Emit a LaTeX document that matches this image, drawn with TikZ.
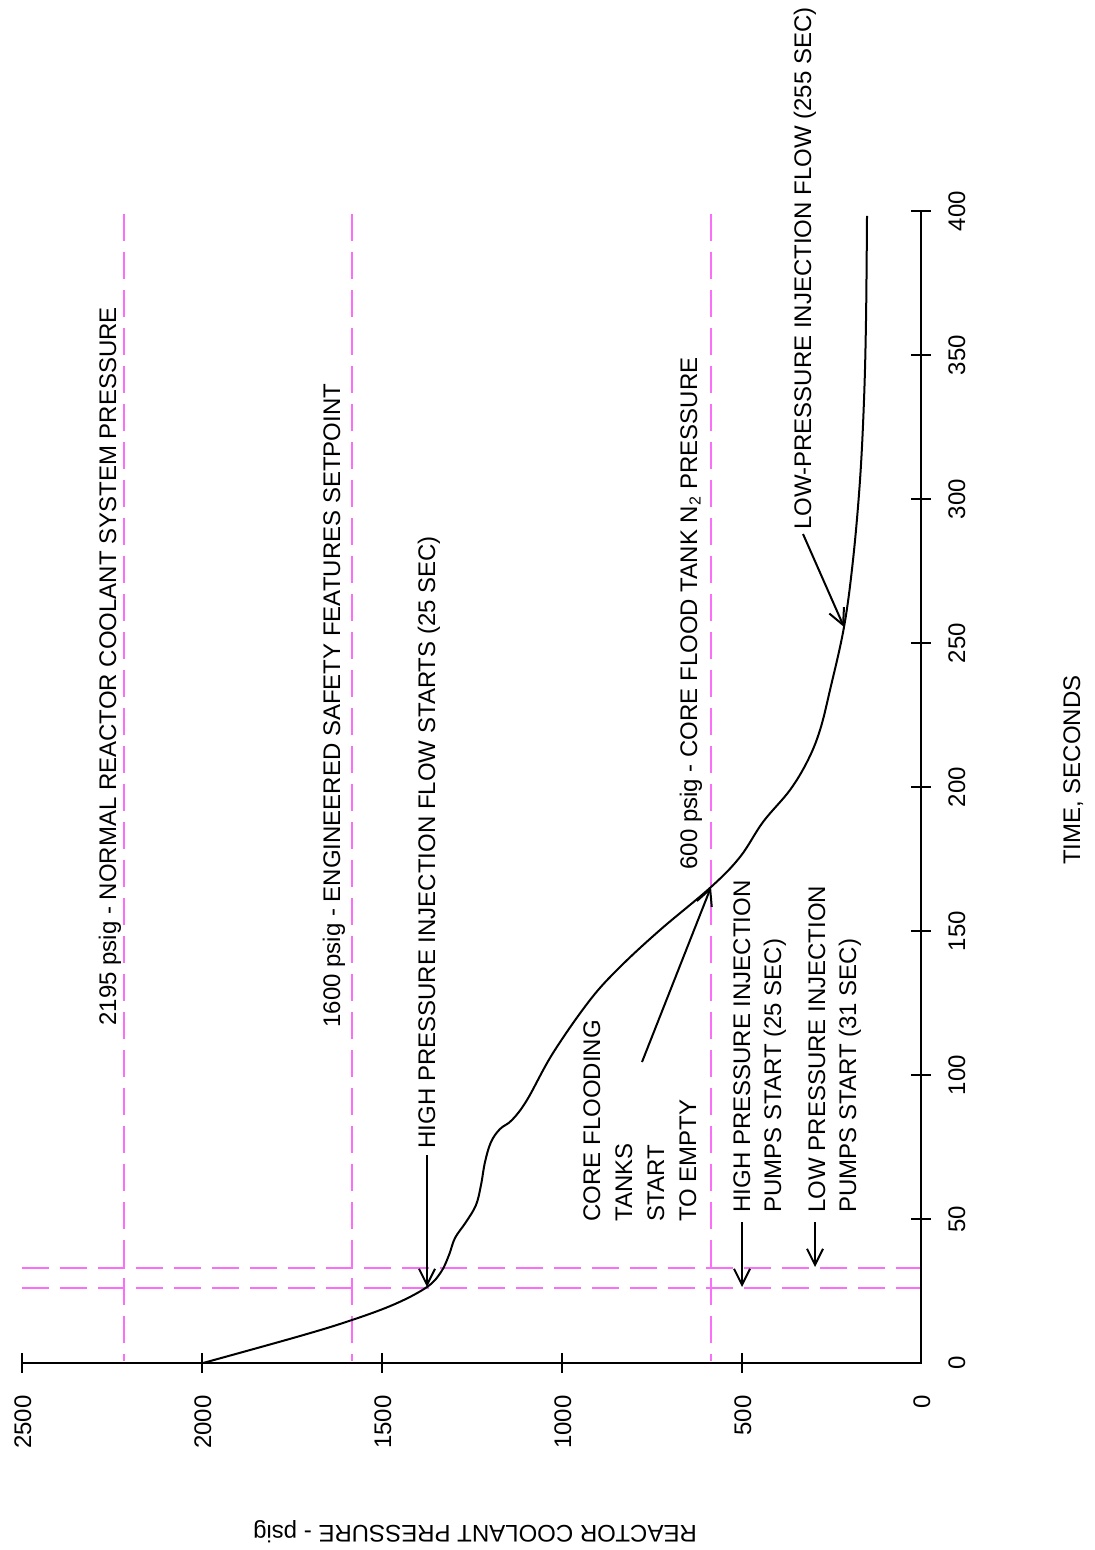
\documentclass[tikz,border=0pt]{standalone}
\usepackage{fontspec}
\setmainfont{Liberation Sans}
\usetikzlibrary{arrows.meta}
\definecolor{guide}{RGB}{250,110,250}
\begin{document}
\begin{tikzpicture}[x=0.5pt,y=-0.5pt,
  lbl/.style={font=\fontsize{12}{16}\selectfont, inner sep=0pt, rotate=90},
  tick/.style={font=\fontsize{12}{14}\selectfont, inner sep=0pt, rotate=90},
  guideline/.style={draw=guide, line width=1pt, dash pattern=on 13.5pt off 5.5pt},
  axisline/.style={line width=1pt},
  curve/.style={line width=1pt},
  pointer/.style={line width=1pt, -{Straight Barb[length=8pt,width=8pt,line width=1pt]}},
]
\useasboundingbox (0,0) rectangle (1094,1550);

% guide lines
\draw[guideline] (124,214) -- (124,1361);
\draw[guideline] (352,214) -- (352,1361);
\draw[guideline] (711,214) -- (711,1361);
\draw[guideline] (22,1268) -- (921,1268);
\draw[guideline] (22,1288) -- (921,1288);

% axes
\draw[axisline] (22,1363) -- (921,1363) -- (921,211);
\foreach \x/\v in {22/2500,202/2000,382/1500,562/1000,742/500} {
  \draw[axisline] (\x,1353) -- (\x,1373);
  \node[tick, anchor=base east] (p\v) at (\x+9,1395) {\v};
}
\node[tick, anchor=base east] (p0) at (930,1395) {0};
\foreach \y/\v in {1219/50,1075/100,931/150,787/200,643/250,499/300,355/350,211/400} {
  \draw[axisline] (911,\y) -- (931,\y);
  \node[tick, anchor=base] (t\v) at (965,\y) {\v};
}
\node[tick, anchor=base] (t0) at (965,1363) {0};

\node[lbl, anchor=base] (xtitle) at (1080,770) {TIME, SECONDS};
\node[font=\fontsize{12}{14}\selectfont, inner sep=0pt, rotate=180, anchor=base] (ytitle) at (475,1525) {REACTOR COOLANT PRESSURE - psig};

% curve points
\coordinate (c25) at (427,1287);
\coordinate (c165) at (711,887);
\coordinate (c255) at (844,627);
\coordinate (hp25) at (742,1287);
\coordinate (lp31) at (815,1267);

\draw[curve] plot[smooth, tension=0.6] coordinates {
(203,1363) (300,1336) (352,1320) (395,1304) (427,1287) (441,1272) (449,1255)
(455,1238) (466,1222) (476,1205) (481,1185) (485,1162) (491,1142) (500,1129)
(512,1120) (527,1100) (553,1053) (590,1000) (620,967) (660,930) (711,887)
(740,857) (763,822) (790,790) (808,760) (820,730) (830,690) (844,627)
(853,560) (860,480) (864,400) (866,320) (867,216)};

% labels
\node[lbl, anchor=base west] (l2195) at (116,1026) {2195 psig - NORMAL REACTOR COOLANT SYSTEM PRESSURE};
\node[lbl, anchor=base west] (l1600) at (340,1028) {1600 psig - ENGINEERED SAFETY FEATURES SETPOINT};
\node[lbl, anchor=base west] (lhpflow) at (435,1149) {HIGH PRESSURE INJECTION FLOW STARTS (25 SEC)};
\node[lbl, anchor=base west] (l600) at (697,870) {600 psig - CORE FLOOD TANK N\textsubscript{2} PRESSURE};
\node[lbl, anchor=base west] (llpflow) at (811,530) {LOW-PRESSURE INJECTION FLOW (255 SEC)};
\node[lbl, anchor=north west, align=left, font=\fontsize{12}{16}\selectfont] (lcft) at (583,1222) {CORE FLOODING\\TANKS\\START\\TO EMPTY};
\node[lbl, anchor=north west, align=left, font=\fontsize{12}{15.5}\selectfont] (lhpp) at (733,1213) {HIGH PRESSURE INJECTION\\PUMPS START (25 SEC)};
\node[lbl, anchor=north west, align=left, font=\fontsize{12}{15.5}\selectfont] (llpp) at (808,1213) {LOW PRESSURE INJECTION\\PUMPS START (31 SEC)};

% arrows
\coordinate (s1) at (427,1155);
\coordinate (s2) at (642,1062);
\coordinate (s3) at (742,1222);
\coordinate (s4) at (815,1222);
\coordinate (s5) at (803,534);
\draw[pointer] (s1) -- (c25);
\draw[pointer] (s2) -- (c165);
\draw[pointer] (s3) -- (hp25);
\draw[pointer] (s4) -- (lp31);
\draw[pointer] (s5) -- (c255);
\end{tikzpicture}
\end{document}
